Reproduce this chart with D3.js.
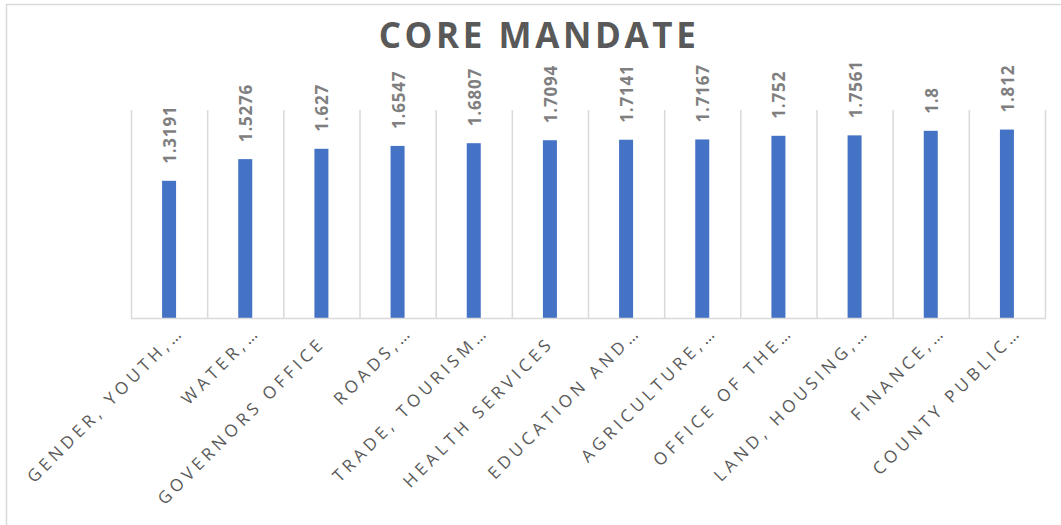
<!DOCTYPE html>
<html lang="en">
<head>
<meta charset="UTF-8">
<title>Core Mandate</title>
<script src="https://cdn.jsdelivr.net/npm/d3@7"></script>
<style>
  body { margin: 0; background: #fff; }
</style>
</head>
<body>
<script>
    // chart data
    var categories = ["GENDER, YOUTH,\u2026", "WATER,\u2026", "GOVERNORS OFFICE", "ROADS,\u2026",
        "TRADE, TOURISM\u2026", "HEALTH SERVICES", "EDUCATION AND\u2026", "AGRICULTURE,\u2026",
        "OFFICE OF THE\u2026", "LAND, HOUSING,\u2026", "FINANCE,\u2026", "COUNTY PUBLIC\u2026"];
    var values = [1.3191, 1.5276, 1.627, 1.6547, 1.6807, 1.7094, 1.7141, 1.7167, 1.752, 1.7561, 1.8, 1.812];
    var valueLabels = ["1.3191", "1.5276", "1.627", "1.6547", "1.6807", "1.7094", "1.7141", "1.7167", "1.752", "1.7561", "1.8", "1.812"];
    var yDomain = [0, 2];

    var width = 1061, height = 525;
    var plot = { left: 131, right: 1045, top: 110, bottom: 318 };

    var svg = d3.select("body").append("svg")
        .attr("width", width)
        .attr("height", height);

    // outer chart frame (right and bottom edges fall outside the picture)
    svg.append("rect")
        .attr("x", 6.5).attr("y", 4.5)
        .attr("width", width + 10).attr("height", height + 10)
        .attr("fill", "#fff")
        .attr("stroke", "#d9d9d9")
        .attr("stroke-width", 1.5);

    var x = d3.scaleBand()
        .domain(categories)
        .range([plot.left, plot.right])
        .padding(0);

    var y = d3.scaleLinear()
        .domain(yDomain)
        .range([plot.bottom, plot.top]);

    // title
    svg.append("text")
        .attr("x", 539)
        .attr("y", 48)
        .attr("text-anchor", "middle")
        .attr("font-family", "Open Sans, sans-serif")
        .attr("font-weight", "bold")
        .attr("font-size", 35)
        .attr("letter-spacing", 3.6)
        .attr("fill", "#595959")
        .text("CORE MANDATE");

    // vertical category gridlines
    var bounds = categories.map(function (c) { return x(c); }).concat([plot.right]);
    svg.append("g")
        .selectAll("line")
        .data(bounds)
        .enter()
        .append("line")
        .attr("x1", function (d) { return d + 0.5; })
        .attr("x2", function (d) { return d + 0.5; })
        .attr("y1", y(yDomain[1]))
        .attr("y2", y(0))
        .attr("stroke", "#d9d9d9")
        .attr("stroke-width", 1.5);

    // bars
    var barW = 14;
    svg.append("g")
        .selectAll("rect")
        .data(values)
        .enter()
        .append("rect")
        .attr("x", function (d, i) { return x(categories[i]) + x.bandwidth() / 2 - barW / 2; })
        .attr("y", function (d) { return y(d); })
        .attr("width", barW)
        .attr("height", function (d) { return y(0) - y(d); })
        .attr("fill", "#4472c4");

    // baseline axis
    svg.append("line")
        .attr("x1", plot.left)
        .attr("x2", plot.right + 1)
        .attr("y1", y(0) + 0.5)
        .attr("y2", y(0) + 0.5)
        .attr("stroke", "#d9d9d9")
        .attr("stroke-width", 1.5);

    // value labels, rotated
    svg.append("g")
        .selectAll("text")
        .data(values)
        .enter()
        .append("text")
        .attr("transform", function (d, i) {
            var cx = x(categories[i]) + x.bandwidth() / 2 + 7;
            return "translate(" + cx + "," + (y(d) - 17) + ") rotate(-90)";
        })
        .attr("font-family", "Open Sans, sans-serif")
        .attr("font-weight", "bold")
        .attr("font-size", 17)
        .attr("letter-spacing", 0.8)
        .attr("fill", "#7f7f7f")
        .text(function (d, i) { return valueLabels[i]; });

    // category labels, rotated -45; truncated ones run a little further
    svg.append("g")
        .selectAll("text")
        .data(categories)
        .enter()
        .append("text")
        .attr("transform", function (d) {
            var shift = d.slice(-1) === "\u2026" ? 11 : 0;
            var cx = x(d) + x.bandwidth() / 2 + 5 + shift;
            return "translate(" + cx + "," + (344 - shift) + ") rotate(-45)";
        })
        .attr("text-anchor", "end")
        .attr("font-family", "Open Sans, sans-serif")
        .attr("font-size", 17)
        .attr("letter-spacing", 4.2)
        .attr("fill", "#595959")
        .text(function (d) { return d; });
</script>
</body>
</html>
